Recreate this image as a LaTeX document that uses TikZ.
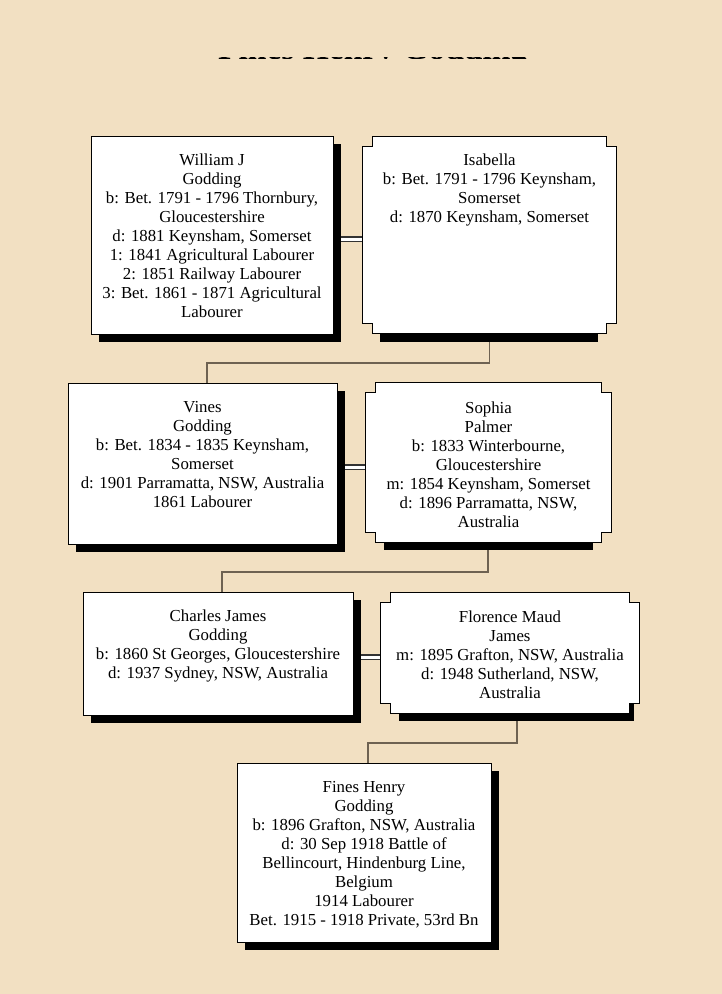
\documentclass[tikz,border=0pt]{standalone}
\usepackage{fontspec}
\setmainfont{Liberation Serif}
\definecolor{bg}{RGB}{242,224,194}
\definecolor{conn}{RGB}{110,98,82}
\pgfdeclarelayer{bgl}
\pgfdeclarelayer{conl}
\pgfdeclarelayer{shl}
\pgfsetlayers{bgl,conl,shl,main}
\tikzset{
  box/.style={draw=black, line width=0.9pt, fill=white, inner sep=0pt},
  nbox/.style={inner sep=0pt},
  notchline/.style={draw=black, line width=0.9pt, fill=white},
  txt/.style={font=\fontsize{16.8}{19}\selectfont, align=center, inner sep=0pt},
  marr/.style={draw=black!80, double=white, double distance=3pt, line width=1.4pt},
  desc/.style={draw=conn, line width=1.6pt},
  shad/.style={fill=black}
}
\newcommand{\notchpath}[1]{%
  \path[notchline] ([xshift=10pt]#1.north west) -- ([xshift=-10pt]#1.north east) -- ++(0,10) -- ++(10,0)
    -- ([yshift=10pt]#1.south east) -- ++(-10,0) -- ++(0,10) -- ([xshift=10pt]#1.south west)
    -- ++(0,-10) -- ++(-10,0) -- ([yshift=-10pt]#1.north west) -- ++(10,0) -- cycle;}
\begin{document}
\begin{tikzpicture}[x=1pt,y=-1pt]
\begin{pgfonlayer}{bgl}
\fill[bg] (0,0) rectangle (722,994);
\end{pgfonlayer}
\useasboundingbox (0,0) rectangle (722,994);

% title (cut off: only the feet of its letters show)
\node[font=\bfseries\fontsize{33.5}{40}\selectfont, anchor=base west, inner sep=0pt] (title) at (218,59) {Fines Henry Godding};
\fill[bg] (0,0) rectangle (722,57);
\fill[bg] (0,59.3) rectangle (722,80);

% boxes
\node[box, minimum width=242pt, minimum height=198pt] (will) at (212,235) {};
\node[nbox, minimum width=253pt, minimum height=197pt] (isa) at (489.5,235) {};
\notchpath{isa}
\node[box, minimum width=269pt, minimum height=161pt] (vines) at (202.5,463.5) {};
\node[nbox, minimum width=245pt, minimum height=159pt] (sophia) at (488.5,462.5) {};
\notchpath{sophia}
\node[box, minimum width=270pt, minimum height=123pt] (charles) at (218,653.5) {};
\node[nbox, minimum width=258pt, minimum height=120pt] (flor) at (510,653) {};
\notchpath{flor}
\node[box, minimum width=254pt, minimum height=179pt] (fines) at (364,852.5) {};

% texts (anchor=base is the baseline of the last line)
\node[txt, anchor=base] (willt) at ([yshift=-182pt]will.north) {William J\\Godding\\b: Bet. 1791 - 1796 Thornbury,\\Gloucestershire\\d: 1881 Keynsham, Somerset\\1: 1841 Agricultural Labourer\\2: 1851 Railway Labourer\\3: Bet. 1861 - 1871 Agricultural\\Labourer};
\node[txt, anchor=base] (isat) at ([yshift=-86.5pt]isa.north) {Isabella\\b: Bet. 1791 - 1796 Keynsham,\\Somerset\\d: 1870 Keynsham, Somerset};
\node[txt, anchor=base] (vinest) at ([yshift=-125pt]vines.north) {Vines\\Godding\\b: Bet. 1834 - 1835 Keynsham,\\Somerset\\d: 1901 Parramatta, NSW, Australia\\1861 Labourer};
\node[txt, anchor=base] (sophiat) at ([yshift=-144.5pt]sophia.north) {Sophia\\Palmer\\b: 1833 Winterbourne,\\Gloucestershire\\m: 1854 Keynsham, Somerset\\d: 1896 Parramatta, NSW,\\Australia};
\node[txt, anchor=base] (charlest) at ([yshift=-87pt]charles.north) {Charles James\\Godding\\b: 1860 St Georges, Gloucestershire\\d: 1937 Sydney, NSW, Australia};
\node[txt, anchor=base] (flort) at ([yshift=-106pt]flor.north) {Florence Maud\\James\\m: 1895 Grafton, NSW, Australia\\d: 1948 Sutherland, NSW,\\Australia};
\node[txt, anchor=base] (finest) at ([yshift=-163pt]fines.north) {Fines Henry\\Godding\\b: 1896 Grafton, NSW, Australia\\d: 30 Sep 1918 Battle of\\Bellincourt, Hindenburg Line,\\Belgium\\1914 Labourer\\Bet. 1915 - 1918 Private, 53rd Bn};

% shadows
\begin{pgfonlayer}{shl}
\fill[shad] ([xshift=8pt,yshift=-8pt]will.north west) rectangle ([xshift=8pt,yshift=-8pt]will.south east);
\fill[shad] ([xshift=8pt,yshift=-8pt]vines.north west) rectangle ([xshift=8pt,yshift=-8pt]vines.south east);
\fill[shad] ([xshift=8pt,yshift=-8pt]charles.north west) rectangle ([xshift=8pt,yshift=-8pt]charles.south east);
\fill[shad] ([xshift=8pt,yshift=-8pt]fines.north west) rectangle ([xshift=8pt,yshift=-8pt]fines.south east);
\fill[shad] ([xshift=17pt,yshift=10pt]isa.south west) rectangle ([xshift=-18pt,yshift=-8pt]isa.south east);
\fill[shad] ([xshift=18pt,yshift=10pt]sophia.south west) rectangle ([xshift=-18pt,yshift=-8pt]sophia.south east);
\fill[shad] ([xshift=18pt,yshift=10pt]flor.south west) rectangle ([xshift=-5pt,yshift=-8pt]flor.south east);
\end{pgfonlayer}

% connectors
\begin{pgfonlayer}{conl}
\draw[marr] ([yshift=-4pt]will.east) -- ([yshift=-4pt]will.east -| isa.west);
\draw[marr] ([yshift=-3.5pt]vines.east) -- ([yshift=-3.5pt]vines.east -| sophia.west);
\draw[marr] ([yshift=-3.5pt]charles.east) -- ([yshift=-3.5pt]charles.east -| flor.west);
\draw[desc] (isa.south) -- ++(0,29) -| ([xshift=4.5pt]vines.north);
\draw[desc] ([xshift=-0.5pt]sophia.south) -- ++(0,30) -| ([xshift=4pt]charles.north);
\draw[desc] ([xshift=7pt]flor.south) -- ++(0,30) -| ([xshift=4pt]fines.north);
\end{pgfonlayer}
\end{tikzpicture}
\end{document}
